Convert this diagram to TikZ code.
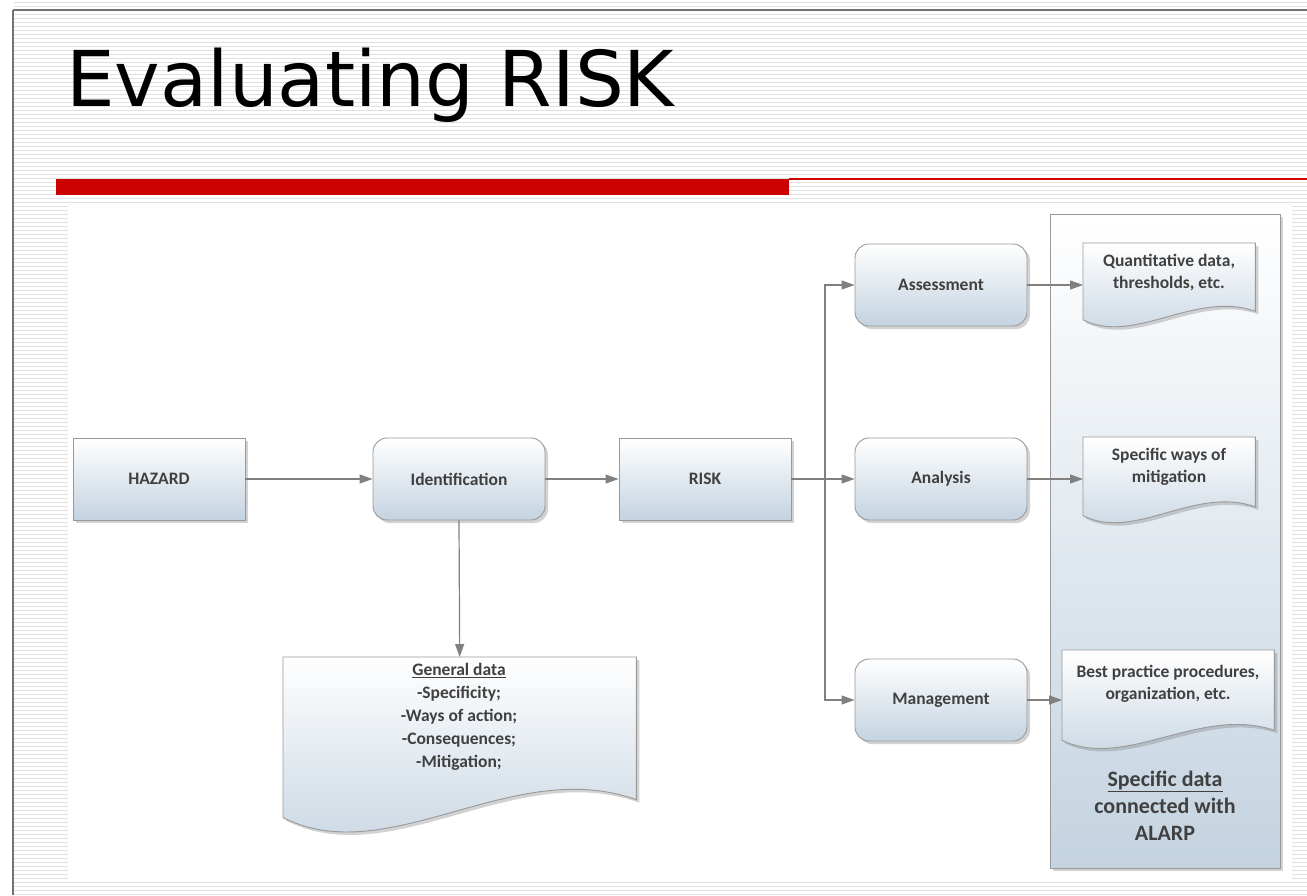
\documentclass[tikz,border=0pt]{standalone}
\usepackage{fontspec}
\setmainfont{Carlito}
\newfontfamily\titlefont{DejaVu Sans}
\usetikzlibrary{arrows.meta,shadows,calc}
\definecolor{boxbot}{RGB}{196,211,224}
\definecolor{txt}{RGB}{64,64,64}
\definecolor{edge}{RGB}{128,128,128}
\definecolor{redbar}{RGB}{204,0,0}
\tikzset{
  shade box/.style={top color=white, bottom color=boxbot, draw=edge!80, line width=0.9pt,
    drop shadow={shadow xshift=3pt, shadow yshift=-3pt, opacity=0.35}},
  rbox/.style={shade box, rectangle, minimum width=172pt, minimum height=82pt, font=\fontsize{17.5}{21}\selectfont\bfseries, text=txt},
  rrbox/.style={rbox, rounded corners=14pt},
  doctext/.style={rectangle, draw=none, font=\fontsize{17.5}{22}\selectfont\bfseries, text=txt, align=center, inner sep=0pt},
  conn/.style={draw=edge, line width=1.2pt, -{Triangle[length=13pt,width=9pt]}},
  plain/.style={draw=edge, line width=1.2pt},
}
% document shape; #1 node name (north west / south east corners)
\newcommand{\docpath}[1]{%
  \path[shade box] let \p1=(#1.north west), \p2=(#1.south east), \n1={\x2-\x1}, \n2={\y1-\y2} in
    (\p1) -- (\x2,\y1) -- (\x2,\y2+0.2*\n2)
    .. controls (\x1+0.65*\n1,\y2+0.45*\n2) and (\x1+0.3*\n1,\y2-0.2*\n2) .. (\x1,\y2+0.1*\n2) -- cycle;}
\begin{document}
\begin{tikzpicture}[x=1pt,y=-1pt]
\useasboundingbox (0,0) rectangle (1307,895);
\fill[white] (0,0) rectangle (1307,895);
\foreach \yy in {2,6,...,894} \draw[black!12, line width=0.8pt] (14,\yy) -- (1307,\yy);
\draw[black!55, line width=2pt] (13,10) -- (1307,10);
\draw[black!55, line width=2pt] (13,10) -- (13,895);
\fill[white] (68,205) rectangle (1292,880);
% title
\node[anchor=base west, font=\titlefont\fontsize{77}{85}\selectfont, inner sep=0pt] (title) at (66,106) {Evaluating RISK};
\fill[redbar] (56,179) rectangle (789,195);
\draw[redbar, line width=1.2pt] (789,179) -- (1307,179);
% big panel
\node[shade box, rectangle, minimum width=230pt, minimum height=654pt, anchor=north west] (panel) at (1050,214) {};
\node[font=\fontsize{22}{27}\selectfont\bfseries, text=txt, align=center] (ptext) at (1165,806) {\underline{Specific data}\\connected with\\ALARP};
% main nodes
\node[rbox] (hazard) at (159,479) {HAZARD};
\node[rrbox] (ident) at (459,479) {Identification};
\node[rbox] (risk) at (705,479) {RISK};
\node[rrbox] (assess) at (941,285) {Assessment};
\node[rrbox] (anal) at (941,479) {Analysis};
\node[rrbox] (manag) at (941,700) {Management};
% documents
\node[doctext, minimum width=172pt, minimum height=85pt, anchor=north west] (q) at (1083,243) {};
\docpath{q}
\node[doctext] (qt) at (1169,273) {Quantitative data,\\thresholds, etc.};
\node[doctext, minimum width=172pt, minimum height=87pt, anchor=north west] (s) at (1083,437) {};
\docpath{s}
\node[doctext] (st) at (1169,467) {Specific ways of\\mitigation};
\node[doctext, minimum width=212pt, minimum height=100pt, anchor=north west] (b) at (1062,650) {};
\docpath{b}
\node[doctext] (bt) at (1168,684) {Best practice procedures,\\organization, etc.};
\node[doctext, minimum width=353pt, minimum height=178pt, anchor=north west] (g) at (283,657) {};
\docpath{g}
\node[doctext, anchor=north, font=\fontsize{17.5}{23}\selectfont\bfseries] (gt) at (459,663) {\underline{General data}\\-Specificity;\\-Ways of action;\\-Consequences;\\-Mitigation;};
% connectors
\draw[conn] (hazard) -- (ident);
\draw[conn] (ident) -- (risk);
\draw[conn] (ident.south) -- (g.north);
\coordinate (split) at (825,479);
\draw[plain] (risk.east) -- (split);
\draw[conn] (split) |- (assess.west);
\draw[conn] (split) -- (anal.west);
\draw[conn] (split) |- (manag.west);
\draw[conn] (assess) -- (q.west |- assess);
\draw[conn] (anal) -- (s.west |- anal);
\draw[conn] (manag) -- (b.west |- manag);
\end{tikzpicture}
\end{document}
